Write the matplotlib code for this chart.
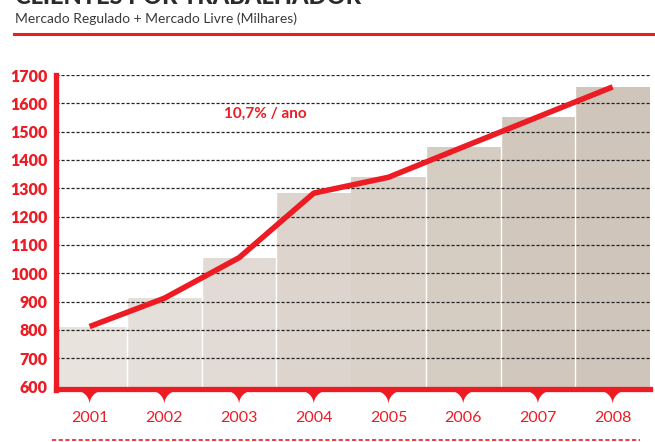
import numpy as np
import matplotlib
matplotlib.use("Agg")
import matplotlib.pyplot as plt
from matplotlib.path import Path
from matplotlib.patches import PathPatch
from matplotlib.transforms import blended_transform_factory


### DATA ###

years = ["2001", "2002", "2003", "2004", "2005", "2006", "2007", "2008"]
clients = [812, 912, 1055, 1283, 1339, 1446, 1552, 1658]
growth_label = "10,7% / ano"
y_ticks = [600, 700, 800, 900, 1000, 1100, 1200, 1300, 1400, 1500, 1600, 1700]

RED = "#ed1c24"
bar_colours = ["#e8e3dd", "#e5dfd9", "#e2dbd5", "#ddd5cd",
               "#dad1c8", "#d5ccc2", "#d1c7bc", "#cfc5ba"]

plt.rcParams['font.family'] = ['Lato', 'DejaVu Sans']

W, H = 655, 442
fig = plt.figure(figsize=(W / 100, H / 100), dpi=100)

#axes box in pixels: left 56, right 650, top (1700) 75, bottom (600) 386.6
ax = fig.add_axes([56 / W, (H - 386.6) / H, (650 - 56) / W, (386.6 - 75) / H])

x = np.arange(len(years))

#bars
ax.bar(x, [v - 600 for v in clients], bottom=600, width=1.0,
       color=bar_colours, edgecolor="none", zorder=1)

#thin white gaps between bars (none between 2004 and 2005)
for i in range(1, len(years)):
    if i == 4:
        continue
    ax.plot([i - 0.5, i - 0.5], [600, max(clients[i - 1], clients[i])],
            color="white", lw=1.0, zorder=1.5)

#dashed grid drawn over the bars
for t in y_ticks[1:]:
    ax.axhline(t, color="#222222", lw=0.9, ls=(0, (2.5, 1.5)), zorder=2)

#growth line
ax.plot(x, clients, color=RED, lw=4, solid_capstyle="butt", zorder=3)

ax.text(2.35, 1562, growth_label, color=RED, fontsize=11, fontweight="bold",
        ha="center", va="center")

ax.set_xlim(-0.45, 7.5)
ax.set_ylim(600, 1700)

for s in ["top", "right"]:
    ax.spines[s].set_visible(False)
ax.spines["left"].set_color(RED)
ax.spines["left"].set_linewidth(3.8)
ax.spines["left"].set_bounds(600 - 12, 1700)
ax.spines["bottom"].set_color(RED)
ax.spines["bottom"].set_linewidth(3.8)
ax.spines["bottom"].set_position(("data", 600 - 7))
ax.spines["bottom"].set_zorder(4)
ax.spines["left"].set_zorder(4)

ax.set_yticks(y_ticks)
ax.set_yticklabels([str(t) for t in y_ticks], color=RED, fontsize=11.5,
                   fontweight="heavy")
ax.tick_params(axis="y", length=0, pad=6)
ax.set_xticks([])

#brace notches under each year + year labels
trans = blended_transform_factory(ax.transData, ax.transAxes)
nh = 0.045
w = 0.2
top = -0.012
for i, yr in enumerate(years):
    verts = [(i - w, top), (i - 0.45 * w, top), (i, top - 0.45 * nh), (i, top - nh),
             (i, top - 0.45 * nh), (i + 0.45 * w, top), (i + w, top), (i - w, top)]
    codes = [Path.MOVETO, Path.CURVE4, Path.CURVE4, Path.CURVE4,
             Path.CURVE4, Path.CURVE4, Path.CURVE4, Path.CLOSEPOLY]
    ax.add_patch(PathPatch(Path(verts, codes), facecolor=RED, edgecolor="none",
                           transform=trans, clip_on=False, zorder=4))
    ax.text(i, -0.102, yr, color=RED, fontsize=11.5, ha="center", va="center",
            transform=trans)

#title (cut off at top), subtitle, red rules
fig.text(15 / W, 1 - 4.5 / H, "CLIENTES POR TRABALHADOR", fontsize=17,
         fontweight="black", color="#2b2b2b", va="baseline", ha="left")
fig.text(15 / W, 1 - 23 / H, "Mercado Regulado + Mercado Livre (Milhares)",
         fontsize=10, color="#3a3a3a", va="baseline", ha="left")
fig.add_artist(plt.Line2D([14 / W, 1], [1 - 34 / H, 1 - 34 / H], color=RED, lw=2.2))
fig.add_artist(plt.Line2D([52 / W, 640 / W], [1 - 440 / H, 1 - 440 / H], color=RED,
                          lw=1.2, ls=(0, (2.5, 1.5))))

fig.savefig("out.png", dpi=100)
